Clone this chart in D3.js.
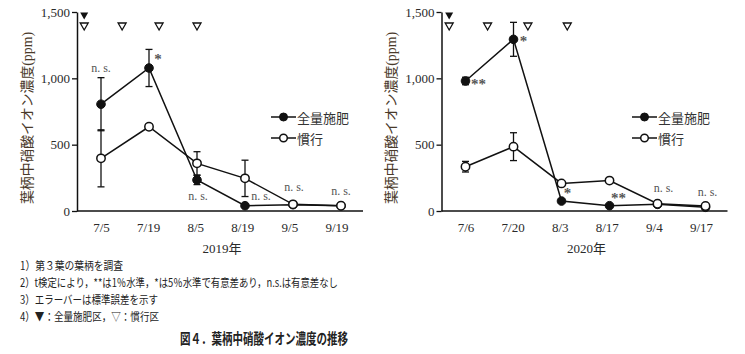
<!DOCTYPE html>
<html><head><meta charset="utf-8">
<script src="https://cdn.jsdelivr.net/npm/d3@7"></script>
<style>
body{margin:0;background:#fff;}
svg{display:block;}
</style></head><body>
<svg id="c" width="745" height="354"></svg>
<script>
// ---- data ----
const dates2019 = ["7/5","7/19","8/5","8/19","9/5","9/19"];
const full2019 = [805,1078,234,40,48,40];
const fullErr2019 = [200,140,35,0,0,0];
const conv2019 = [397,635,359,246,50,40];
const convErr2019 = [215,20,88,137,0,0];
const sig2019 = ["n. s.","*","n. s.","n. s.","n. s.","n. s."];
const fullFert2019 = [-0.35];
const convFert2019 = [-0.35,0.44,1.21,2.0];

const dates2020 = ["7/6","7/20","8/3","8/17","9/4","9/17"];
const full2020 = [980,1294,75,40,50,28];
const fullErr2020 = [28,128,0,0,0,0];
const conv2020 = [334,485,208,229,55,38];
const convErr2020 = [40,105,15,20,0,0];
const sig2020 = ["**","*","*","**","n. s.","n. s."];
const fullFert2020 = [-0.34];
const convFert2020 = [-0.34,0.46,1.30,2.12];

const yTicks = [0,500,1000,1500];
const seriesNames = ["全量施肥","慣行"];
const years = ["2019年","2020年"];
const yLabel = "葉柄中硝酸イオン濃度(ppm)";
const notes = ["1）第３葉の葉柄を調査",
  "2）t検定により，**は1％水準，*は5％水準で有意差あり，n.s.は有意差なし",
  "3）エラーバーは標準誤差を示す",
  "4）▼：全量施肥区，▽：慣行区"];
const title = "図４．葉柄中硝酸イオン濃度の推移";

// ---- drawing ----
const svg = d3.select("#c");
const SERIF = "'Liberation Serif','DejaVu Serif','Noto Sans CJK JP',serif";
const CJK = "'Noto Sans CJK JP','Noto Sans CJK SC',sans-serif";

// significance-label offsets (px) relative to the 全量施肥 point
const panels = [
  {x0:77, dates:dates2019, full:full2019, fe:fullErr2019, conv:conv2019, ce:convErr2019, sig:sig2019,
   ff:fullFert2019, cf:convFert2019, year:years[0],
   sigOff:[[0,-36],[9,-9],[1,16],[16,-10],[1,-18],[0,-15]], legX:271},
  {x0:441.5, dates:dates2020, full:full2020, fe:fullErr2020, conv:conv2020, ce:convErr2020, sig:sig2020,
   ff:fullFert2020, cf:convFert2020, year:years[1],
   sigOff:[[13,3],[10,2],[6,-8],[9,-8],[6,-16],[2,-15]], legX:632}
];

const y = d3.scaleLinear().domain([0,1500]).range([211,12]);

panels.forEach(p => {
  const g = svg.append("g");
  const x = d3.scalePoint().domain(p.dates).range([p.x0, p.x0+288]).padding(0.5);
  const xi = d3.scaleLinear().domain([0,5]).range([x(p.dates[0]), x(p.dates[5])]);

  // y axis
  const ya = g.append("g").attr("transform",`translate(${p.x0},0)`)
    .call(d3.axisLeft(y).tickValues(yTicks).tickFormat(d3.format(",")).tickSize(5).tickSizeOuter(0).tickPadding(2));
  ya.select(".domain").attr("stroke","#111").attr("stroke-width",1.5);
  ya.selectAll(".tick line").attr("stroke","#111").attr("stroke-width",1.3);
  ya.selectAll(".tick text").attr("font-family",SERIF).attr("font-size",13).attr("fill","#2a2a2a");

  // x axis
  const xa = g.append("g").attr("transform",`translate(0,211)`)
    .call(d3.axisBottom(x).tickSize(0).tickSizeOuter(0).tickPadding(12));
  xa.select(".domain").attr("stroke","#111").attr("stroke-width",1.5)
    .attr("d",`M${p.x0},0H${p.x0+286}`);
  xa.selectAll(".tick text").attr("font-family",SERIF).attr("font-size",13).attr("fill","#2a2a2a")
    .attr("dx",(d,i)=>-i*0.9);

  // y label
  g.append("text").attr("transform",`translate(${p.x0-50},118) rotate(-90)`)
    .attr("text-anchor","middle").attr("dominant-baseline","central")
    .attr("font-family",SERIF).attr("font-size",14).attr("fill","#4a3a2a")
    .attr("textLength",172).attr("lengthAdjust","spacingAndGlyphs")
    .text(yLabel);

  // year label
  g.append("text").attr("x",p.x0+145).attr("y",253).attr("text-anchor","middle")
    .attr("font-family",SERIF).attr("font-size",13).attr("fill","#2a2a2a").text(p.year);

  const line = d3.line().x((d,i)=>x(p.dates[i])).y(d=>y(d));

  function drawSeries(vals, errs, filled){
    g.append("path").datum(vals).attr("d",line).attr("fill","none").attr("stroke","#111").attr("stroke-width",1.5);
    vals.forEach((v,i)=>{
      const e = errs[i];
      if(e>0){
        const cx = x(p.dates[i]);
        g.append("line").attr("x1",cx).attr("x2",cx).attr("y1",y(v+e)).attr("y2",y(v-e))
          .attr("stroke","#111").attr("stroke-width",1.3);
        [v+e,v-e].forEach(t=>g.append("line").attr("x1",cx-3.5).attr("x2",cx+3.5)
          .attr("y1",y(t)).attr("y2",y(t)).attr("stroke","#111").attr("stroke-width",1.3));
      }
    });
    g.selectAll(null).data(vals).enter().append("circle")
      .attr("cx",(d,i)=>x(p.dates[i])).attr("cy",d=>y(d)).attr("r",filled?4.3:4.2)
      .attr("fill",filled?"#111":"#fff").attr("stroke","#111").attr("stroke-width",filled?1:1.5);
  }
  drawSeries(p.full,p.fe,true);
  drawSeries(p.conv,p.ce,false);

  // significance
  p.sig.forEach((s,i)=>{
    const [dx,dy] = p.sigOff[i];
    g.append("text").attr("x",x(p.dates[i])+dx).attr("y",y(p.full[i])+dy)
      .attr("text-anchor","middle").attr("dominant-baseline","central")
      .attr("font-family",SERIF).attr("font-size",s==="n. s."?12:15)
      .attr("fill","#555").attr("font-weight",s==="n. s."?"normal":"bold")
      .text(s);
  });

  // fertilization triangles
  const tri = (cx,cy)=>`M${cx-4},${cy-3.5}L${cx+4},${cy-3.5}L${cx},${cy+3.5}Z`;
  p.ff.forEach(t=>g.append("path").attr("d",tri(xi(t),16)).attr("fill","#111"));
  p.cf.forEach(t=>g.append("path").attr("d",tri(xi(t),26.5)).attr("fill","#fff").attr("stroke","#111").attr("stroke-width",1.3));

  // legend
  seriesNames.forEach((n,i)=>{
    const ly = 117 + i*21;
    g.append("line").attr("x1",p.legX).attr("x2",p.legX+25).attr("y1",ly).attr("y2",ly).attr("stroke","#111").attr("stroke-width",1.5);
    g.append("circle").attr("cx",p.legX+12.5).attr("cy",ly).attr("r",i===0?4:3.8)
      .attr("fill",i===0?"#111":"#fff").attr("stroke","#111").attr("stroke-width",i===0?1:1.5);
    g.append("text").attr("x",p.legX+26).attr("y",ly).attr("dominant-baseline","central")
      .attr("font-family",CJK).attr("font-size",13).attr("fill","#333").text(n);
  });
});

// notes
const noteLens = [103,318,138,139];
notes.forEach((t,i)=>{
  svg.append("text").attr("x",20).attr("y",270+i*16.9)
    .attr("font-family",CJK).attr("font-size",11.5).attr("fill","#222")
    .attr("textLength",noteLens[i]).attr("lengthAdjust","spacingAndGlyphs").text(t);
});
svg.append("text").attr("x",264).attr("y",344).attr("text-anchor","middle")
  .attr("font-family",CJK).attr("font-size",14.5).attr("font-weight","bold").attr("fill","#222")
  .attr("textLength",168).attr("lengthAdjust","spacingAndGlyphs").text(title);
</script>
</body></html>
